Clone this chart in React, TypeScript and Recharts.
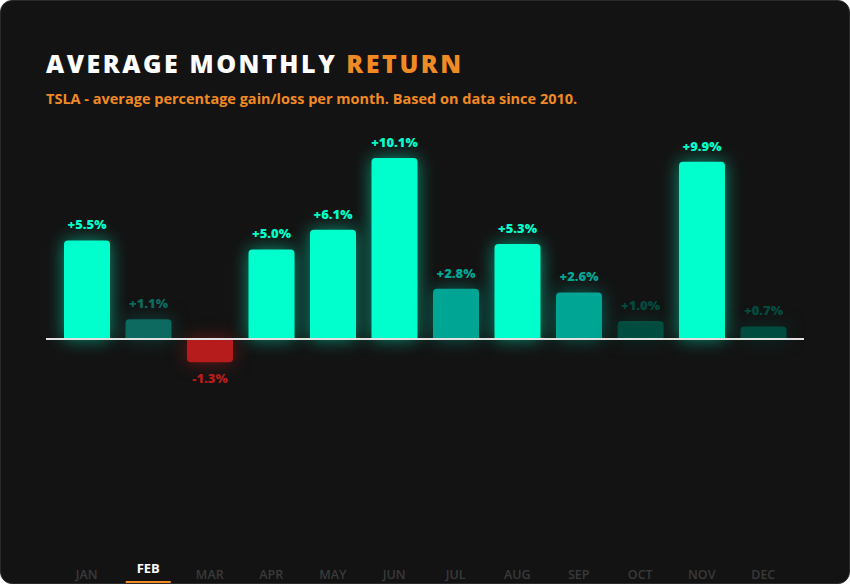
import { Bar, BarChart, Cell, LabelList, Rectangle, ReferenceLine, XAxis, YAxis } from 'recharts'

const months = ['JAN', 'FEB', 'MAR', 'APR', 'MAY', 'JUN', 'JUL', 'AUG', 'SEP', 'OCT', 'NOV', 'DEC']
const avgReturn = [5.5, 1.1, -1.3, 5.0, 6.1, 10.1, 2.8, 5.3, 2.6, 1.0, 9.9, 0.7]
const activeMonth = 'FEB'

const data = months.map((m, i) => ({ month: m, value: avgReturn[i] }))

const ORANGE = '#f08a24'

function colorFor(v: number) {
  if (v < 0) return '#b71c1c'
  if (v >= 5) return '#00ffcc'
  if (v >= 2) return '#00a693'
  if (v > 1.05) return '#0c6a61'
  return '#004d40'
}

function GlowBar(props: any) {
  const { fill } = props
  return <Rectangle {...props} style={{ filter: `drop-shadow(0 0 9px ${fill}88)` }} />
}

function ValueLabel(props: any) {
  const { x, y, width, value } = props
  const cx = x + width / 2
  const neg = value < 0
  const ty = neg ? y + 21 : y - 11
  return (
    <text
      x={cx}
      y={ty}
      textAnchor="middle"
      fill={colorFor(value)}
      fontSize={13}
      fontWeight={800}
      fontFamily="'Open Sans', sans-serif"
    >
      {(value > 0 ? '+' : '') + value.toFixed(1) + '%'}
    </text>
  )
}

function MonthTick(props: any) {
  const { x, y, payload } = props
  const active = payload.value === activeMonth
  if (active) {
    return (
      <g>
        <text x={x} y={y + 19} textAnchor="middle" fill="#ffffff" fontSize={13} fontWeight={700}
          fontFamily="'Open Sans', sans-serif">
          {payload.value}
        </text>
        <rect x={x - 22.5} y={y + 27} width={45} height={2} fill={ORANGE} />
      </g>
    )
  }
  return (
    <text x={x} y={y + 25} textAnchor="middle" fill="#3a3a3a" fontSize={12.5} fontWeight={600}
      fontFamily="'Open Sans', sans-serif">
      {payload.value}
    </text>
  )
}

export default function App() {
  return (
    <div
      style={{
        position: 'absolute',
        left: 0,
        top: 0,
        width: 850,
        height: 584,
        boxSizing: 'border-box',
        border: '1px solid #2a2a2a',
        borderRadius: 12,
        background: '#131313',
        overflow: 'hidden',
        fontFamily: "'Open Sans', sans-serif",
      }}
    >
      <svg width={850} height={120} style={{ position: 'absolute', left: -1, top: -1 }}>
        <text x={46} y={73} fontSize={25} fontWeight={800} letterSpacing={2.55} fill="#ffffff"
          fontFamily="'Open Sans', sans-serif">
          AVERAGE MONTHLY <tspan fill={ORANGE}>RETURN</tspan>
        </text>
        <text x={46} y={104} fontSize={14.5} fontWeight={700} fill={ORANGE}
          fontFamily="'Open Sans', sans-serif">
          TSLA - average percentage gain/loss per month. Based on data since 2010.
        </text>
      </svg>
      <div style={{ position: 'absolute', left: -1, top: -1 }}>
        <BarChart width={850} height={584} data={data} margin={{ top: 124, right: 46, left: 46, bottom: 0 }}>
          <XAxis
            dataKey="month"
            axisLine={false}
            tickLine={false}
            tickSize={0}
            tickMargin={0}
            height={30}
            interval={0}
            padding={{ left: 10, right: 10 }}
            tick={<MonthTick />}
          />
          <YAxis hide domain={[-12, 12]} />
          <Bar dataKey="value" barSize={46} radius={[4, 4, 0, 0]} shape={<GlowBar />} isAnimationActive={false}>
            {data.map((d) => (
              <Cell key={d.month} fill={colorFor(d.value)} />
            ))}
            <LabelList dataKey="value" content={<ValueLabel />} />
          </Bar>
          <ReferenceLine y={0} stroke="#e2e2e2" strokeWidth={2} ifOverflow="extendDomain" />
        </BarChart>
      </div>
    </div>
  )
}
